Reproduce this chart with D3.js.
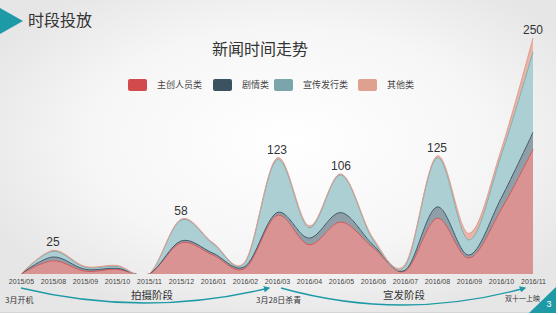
<!DOCTYPE html>
<html>
<head>
<meta charset="utf-8">
<script src="https://cdn.jsdelivr.net/npm/d3@7"></script>
<style>
  html, body { margin: 0; padding: 0; background: #fff; }
  svg { display: block; }
</style>
</head>
<body>
<div id="chart"></div>
<script>
// months on the x axis
const months = ["2015/05", "2015/08", "2015/09", "2015/10", "2015/11", "2015/12",
    "2016/01", "2016/02", "2016/03", "2016/04", "2016/05", "2016/06",
    "2016/07", "2016/08", "2016/09", "2016/10", "2016/11"];

// series values
const creators = [0, 14, 3, 5, 0, 33, 20, 6, 62, 31, 55, 28, 3, 59, 17, 68, 132];
const plot     = [0, 4, 2, 1, 0, 2, 2, 2, 3, 7, 10, 3, 1, 12, 3, 12, 18];
const promo    = [0, 6, 2, 2, 0, 22, 10, 4, 56, 11, 40, 5, 4, 52, 16, 45, 85];
const other    = [0, 1, 1, 1, 0, 1, 1, 1, 2, 2, 1, 2, 2, 2, 7, 6, 15];

const seriesNames = ["主创人员类", "剧情类", "宣传发行类", "其他类"];
const labelMonths = ["2015/08", "2015/12", "2016/03", "2016/05", "2016/08", "2016/11"];

const W = 558, H = 315;
const fillColors = ["#da9393", "#8f9fa7", "#abcfd2", "#e8b4a7"];
const lineColors = ["#d45757", "#40596a", "#82adb2", "#e29e8e"];
const swatchColors = ["#d24a4a", "#3b5361", "#79a5ab", "#e0a08f"];
const teal = "#1e9aa6";
const cjk = "'Noto Sans CJK SC', sans-serif";
const latin = "'Liberation Sans', 'Noto Sans CJK SC', sans-serif";

const svg = d3.select("#chart").append("svg")
    .attr("width", W)
    .attr("height", H);

const defs = svg.append("defs");
const grad = defs.append("radialGradient")
    .attr("id", "bg")
    .attr("cx", "52%").attr("cy", "45%").attr("r", "60%");
grad.append("stop").attr("offset", "0%").attr("stop-color", "#ffffff");
grad.append("stop").attr("offset", "60%").attr("stop-color", "#f6f6f6");
grad.append("stop").attr("offset", "100%").attr("stop-color", "#e6e6e6");

defs.append("marker")
    .attr("id", "arrow")
    .attr("viewBox", "0 0 10 10")
    .attr("refX", 8).attr("refY", 5)
    .attr("markerWidth", 5).attr("markerHeight", 5)
    .attr("orient", "auto")
  .append("path")
    .attr("d", "M0,0 L10,5 L0,10 z")
    .attr("fill", teal);

// slide background
svg.append("rect")
    .attr("x", 0).attr("y", 0)
    .attr("width", 556).attr("height", 312)
    .attr("fill", "url(#bg)");
svg.append("line")
    .attr("x1", 0).attr("x2", 556)
    .attr("y1", 312.5).attr("y2", 312.5)
    .attr("stroke", "#d6d6d6");

// header
svg.append("path")
    .attr("d", "M0,8 L23,21 L0,34 Z")
    .attr("fill", teal);
svg.append("text")
    .attr("x", 28).attr("y", 26)
    .attr("font-family", cjk)
    .attr("font-size", 16)
    .attr("fill", "#333")
    .text("时段投放");

// page number corner
svg.append("path")
    .attr("d", "M529,313 L556,287 L556,313 Z")
    .attr("fill", teal);
svg.append("text")
    .attr("x", 549).attr("y", 307)
    .attr("text-anchor", "middle")
    .attr("font-family", latin)
    .attr("font-size", 9)
    .attr("fill", "#fff")
    .text("3");

// chart title
svg.append("text")
    .attr("x", 260).attr("y", 55)
    .attr("text-anchor", "middle")
    .attr("font-family", cjk)
    .attr("font-size", 16)
    .attr("fill", "#333")
    .text("新闻时间走势");

// legend
const legendX = [128, 213, 274, 358];
const legend = svg.append("g");
seriesNames.forEach((name, i) => {
    legend.append("rect")
        .attr("x", legendX[i]).attr("y", 79)
        .attr("width", 19).attr("height", 12)
        .attr("rx", 2)
        .attr("fill", swatchColors[i]);
    legend.append("text")
        .attr("x", legendX[i] + 29).attr("y", 88)
        .attr("font-family", cjk)
        .attr("font-size", 9)
        .attr("fill", "#444")
        .text(name);
});

// scales
const x = d3.scalePoint()
    .domain(months)
    .range([21, 533]);

const y = d3.scaleLinear()
    .domain([0, 250])
    .range([274, 38]);

const table = months.map((m, i) => ({
    month: m,
    s0: creators[i], s1: plot[i], s2: promo[i], s3: other[i]
}));
const stack = d3.stack().keys(["s0", "s1", "s2", "s3"]);
const layers = stack(table);

defs.append("clipPath").attr("id", "plotClip")
  .append("rect")
    .attr("x", 0).attr("y", 0)
    .attr("width", W).attr("height", 274);

const area = d3.area()
    .x(d => x(d.data.month))
    .y0(d => y(d[0]))
    .y1(d => y(d[1]))
    .curve(d3.curveCardinal.tension(0));

const topLine = d3.line()
    .x(d => x(d.data.month))
    .y(d => y(d[1]))
    .curve(d3.curveCardinal.tension(0));

const g = svg.append("g").attr("clip-path", "url(#plotClip)");
layers.forEach((layer, i) => {
    g.append("path")
        .datum(layer)
        .attr("d", area)
        .attr("fill", fillColors[i]);
});
layers.forEach((layer, i) => {
    g.append("path")
        .datum(layer)
        .attr("d", topLine)
        .attr("fill", "none")
        .attr("stroke", lineColors[i])
        .attr("stroke-width", 1);
});

// x axis labels
const xAxis = svg.append("g")
    .attr("transform", "translate(0,277)")
    .call(d3.axisBottom(x).tickSize(0).tickPadding(2));
xAxis.select(".domain").remove();
xAxis.selectAll("text")
    .attr("font-family", latin)
    .attr("font-size", 7)
    .attr("fill", "#444");

// total labels over the peaks
const totals = months.map((m, i) => creators[i] + plot[i] + promo[i] + other[i]);
svg.append("g").selectAll("text")
    .data(labelMonths)
    .join("text")
    .attr("x", d => x(d))
    .attr("y", d => y(totals[months.indexOf(d)]) - 4)
    .attr("text-anchor", "middle")
    .attr("font-family", latin)
    .attr("font-size", 12)
    .attr("fill", "#333")
    .text(d => totals[months.indexOf(d)]);

// phase arrows
const arrows = [["2015/05", "2016/03", 318], ["2016/03", "2016/11", 322]];
arrows.forEach(([a, b, dip], i) => {
    const x0 = x(a) + (i ? 4 : 0), x1 = x(b) - 8;
    svg.append("path")
        .attr("d", `M${x0},288 Q${(x0 + x1) / 2},${dip} ${x1},288`)
        .attr("fill", "none")
        .attr("stroke", teal)
        .attr("stroke-width", 1.3)
        .attr("marker-end", "url(#arrow)");
});

// phase text
const notes = [
    { t: "3月开机", x: 5, y: 303, size: 8, anchor: "start" },
    { t: "拍摄阶段", x: 152, y: 298.5, size: 10.5, anchor: "middle" },
    { t: "3月28日杀青", x: 256, y: 303, size: 8, anchor: "start" },
    { t: "宣发阶段", x: 404, y: 298.5, size: 10.5, anchor: "middle" },
    { t: "双十一上映", x: 505, y: 301, size: 7, anchor: "start" }
];
svg.append("g").selectAll("text")
    .data(notes)
    .join("text")
    .attr("x", d => d.x).attr("y", d => d.y)
    .attr("text-anchor", d => d.anchor)
    .attr("font-family", cjk)
    .attr("font-size", d => d.size)
    .attr("fill", "#333")
    .text(d => d.t);
</script>
</body>
</html>
